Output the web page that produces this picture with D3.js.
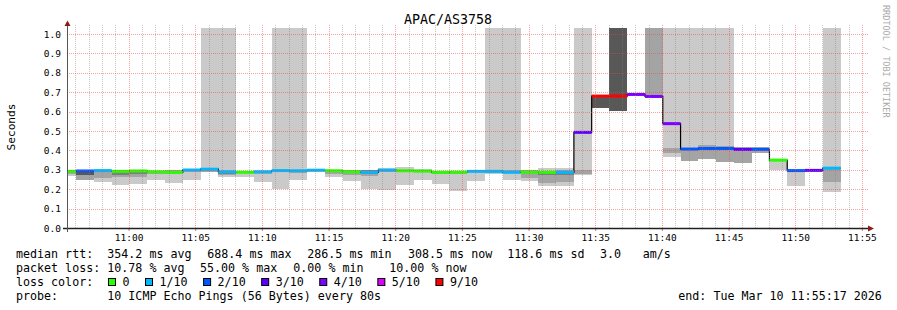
<!DOCTYPE html>
<html>
<head>
<meta charset="utf-8">
<title>APAC/AS3758</title>
<script src="https://cdn.jsdelivr.net/npm/d3@7/dist/d3.min.js"></script>
<style>
  body { margin: 0; background: #fff; }
  svg { display: block; font-family: "DejaVu Sans Mono", monospace; }
  .axis text { font-family: "DejaVu Sans Mono", monospace; font-size: 9.5px; fill: #000; }
  .legend text { font-size: 11.66px; fill: #000; white-space: pre; }
  .smoke rect { shape-rendering: crispEdges; }
</style>
</head>
<body>
<svg width="897" height="310"></svg>
<script>
// ---- data ----
var title = "APAC/AS3758";
var yTitle = "Seconds";
var watermark = "RRDTOOL / TOBI OETIKER";
var timeStart = "10:55:23", timeEnd = "11:55:23";
var firstBin = "10:54:44", stepSec = 80;
var INF = Infinity;

// median rtt per 80s bin (seconds)
var median = [
  0.292, 0.294, 0.296, 0.292, 0.294, 0.290, 0.287, 0.299, 0.303, 0.290,
  0.287, 0.290, 0.296, 0.295, 0.298, 0.295, 0.290, 0.287, 0.298, 0.295,
  0.293, 0.287, 0.288, 0.292, 0.292, 0.287, 0.288, 0.2865, 0.287, 0.493,
  0.680, 0.680, 0.6884, 0.678, 0.538, 0.407, 0.410, 0.410, 0.405, 0.405,
  0.350, 0.296, 0.297, 0.3085
];
// lost pings (of 10) per bin
var loss = [
  0, 2, 1, 0, 0, 0, 0, 1, 1, 1,
  0, 1, 1, 1, 1, 0, 0, 1, 1, 0,
  0, 0, 0, 1, 1, 1, 0, 0, 1, 3,
  9, 9, 4, 4, 4, 2, 2, 2, 3, 2,
  0, 2, 3, 1
];
// smoke bands [low, high] per bin, outermost to innermost
var smokeLight = [
  [0.270, 0.292], [0.247, 0.294], [0.239, 0.296], [0.222, 0.290], [0.226, 0.292],
  [0.247, 0.290], [0.230, 0.295], [0.247, 0.300], [0.288, INF],   [0.265, INF],
  [0.265, 0.290], [0.239, 0.290], [0.201, INF],   [0.247, INF],   [0.288, 0.300],
  [0.265, 0.295], [0.244, 0.300], [0.200, 0.300], [0.196, 0.310], [0.222, 0.315],
  [0.247, 0.305], [0.227, 0.295], [0.192, 0.295], [0.244, 0.297], [0.280, INF],
  [0.247, INF],   [0.242, 0.300], [0.216, 0.308], [0.216, 0.310], [0.273, INF],
  null, null, null, null, [0.368, INF],
  [0.347, INF],   [0.357, INF],   [0.342, INF],   null, null,
  [0.299, 0.350], [0.216, 0.296], null, [0.187, INF]
];
var smokeMid = [
  [0.278, 0.290], [0.247, 0.293], [0.256, 0.293], [0.265, 0.290], [0.265, 0.290],
  [0.280, 0.290], [0.280, 0.297], [0.290, 0.300], [0.288, 0.300], [0.275, 0.292],
  null,           [0.280, 0.292], [0.288, 0.300], [0.285, 0.300], null,
  [0.280, 0.292], [0.275, 0.300], [0.270, 0.300], [0.290, 0.305], null,
  null,           [0.280, 0.295], [0.280, 0.295], null,           [0.285, 0.297],
  [0.287, 0.300], [0.260, 0.300], [0.230, 0.290], [0.239, 0.300], [0.278, 0.300],
  null, null, [0.684, 0.692], [0.680, INF], [0.388, 0.410],
  [0.347, 0.402], [0.357, 0.430], [0.342, 0.424], [0.337, 0.420], [0.388, 0.418],
  null, null, null, [0.239, 0.305]
];
var smokeDeep = [
  null, null, null, [0.275, 0.290], [0.280, 0.290], null, null, null, null, [0.278, 0.290],
  null, null, null, null, null, null, null, [0.280, 0.298], null, null,
  null, null, null, null, null, null, null, [0.273, 0.285], [0.275, 0.290], null,
  null, null, null, null, null, null, null, null, null, null,
  null, null, null, null
];
var smokeDark = [
  null, [0.275, 0.293], null, null, null, null, null, null, null, null,
  null, null, null, null, null, null, null, null, null, null,
  null, null, null, null, null, null, null, null, null, null,
  [0.617, 0.680], [0.605, INF], null, null, null, null, null, null, null, null,
  null, null, null, null
];

var lossKeys = [0, 1, 2, 3, 4, 5, 9];
var lossLabels = ["0", "1/10", "2/10", "3/10", "4/10", "5/10", "9/10"];
var lossColors = ["#26ff00", "#00b8ff", "#0059ff", "#5e00ff", "#7e00ff", "#dd00ff", "#ff0000"];

var rttStats = ["354.2 ms avg", "688.4 ms max", "286.5 ms min", "308.5 ms now", "118.6 ms sd"];
var amStat = ["3.0", "am/s"];
var lossStats = ["10.78 % avg", "55.00 % max", " 0.00 % min", "10.00 % now"];
var probeText = "10 ICMP Echo Pings (56 Bytes) every 80s";
var endText = "end: Tue Mar 10 11:55:17 2026";

// ---- layout ----
var svg = d3.select("svg");
var plotL = 67, plotR = 867, plotT = 28, plotB = 228;
var parse = d3.timeParse("%H:%M:%S");

var x = d3.scaleTime()
  .domain([parse(timeStart), parse(timeEnd)])
  .range([plotL, plotR])
  .clamp(true);
var y = d3.scaleLinear()
  .domain([0, (plotB - plotT) / 194])
  .range([plotB, plotT])
  .clamp(true);

var t0 = parse(firstBin);
var bins = median.map(function(m, i) {
  return {
    i: i,
    start: d3.timeSecond.offset(t0, i * stepSec),
    end: d3.timeSecond.offset(t0, (i + 1) * stepSec),
    median: m,
    loss: loss[i]
  };
});

function lossColor(l) {
  var c = lossColors[0];
  lossKeys.forEach(function(k, i) { if (l >= k) c = lossColors[i]; });
  return c;
}

// smoke
var shades = [
  { data: smokeLight, color: "#cacaca" },
  { data: smokeMid, color: "#a4a4a4" },
  { data: smokeDeep, color: "#7e7e7e" },
  { data: smokeDark, color: "#585858" }
];
var smokeG = svg.append("g").attr("class", "smoke");
shades.forEach(function(s) {
  smokeG.append("g").selectAll("rect")
    .data(bins.filter(function(b) { return s.data[b.i]; }))
    .enter().append("rect")
    .attr("x", function(b) { return x(b.start); })
    .attr("width", function(b) { return x(b.end) - x(b.start); })
    .attr("y", function(b) { return y(s.data[b.i][1]); })
    .attr("height", function(b) { return Math.max(1, y(s.data[b.i][0]) - y(s.data[b.i][1])); })
    .attr("fill", s.color);
});

// median: black step line, then thick loss-coloured segments
var stepPts = bins.map(function(b) { return [b.start, b.median]; });
stepPts.push([bins[bins.length - 1].end, bins[bins.length - 1].median]);
svg.append("path")
  .datum(stepPts)
  .attr("fill", "none")
  .attr("stroke", "#000")
  .attr("stroke-width", 1.2)
  .attr("d", d3.line().curve(d3.curveStepAfter)
    .x(function(d) { return x(d[0]); })
    .y(function(d) { return y(d[1]); }));

svg.append("g").selectAll("line")
  .data(bins)
  .enter().append("line")
  .attr("x1", function(d) { return x(d.start); })
  .attr("x2", function(d) { return x(d.end); })
  .attr("y1", function(d) { return y(d.median); })
  .attr("y2", function(d) { return y(d.median); })
  .attr("stroke", function(d) { return lossColor(d.loss); })
  .attr("stroke-width", 3);

// grid (drawn on top, like rrdtool)
var grid = svg.append("g").attr("class", "grid");
var majors = x.ticks(d3.timeMinute.every(5));
var minors = x.ticks(d3.timeMinute.every(1)).filter(function(t) { return t.getMinutes() % 5 !== 0; });
grid.selectAll(".minor").data(minors).enter().append("line")
  .attr("x1", function(d) { return Math.round(x(d)) + 0.5; })
  .attr("x2", function(d) { return Math.round(x(d)) + 0.5; })
  .attr("y1", plotB).attr("y2", 25)
  .attr("stroke", "rgba(128,128,128,0.45)")
  .attr("stroke-dasharray", "1,1");
grid.selectAll(".hmajor").data(y.ticks(10).filter(function(v) { return v > 0; })).enter().append("line")
  .attr("x1", plotL).attr("x2", 868)
  .attr("y1", function(d) { return Math.round(y(d)) + 0.5; })
  .attr("y2", function(d) { return Math.round(y(d)) + 0.5; })
  .attr("stroke", "rgba(240,70,70,0.5)")
  .attr("stroke-dasharray", "1,1");
grid.selectAll(".vmajor").data(majors).enter().append("line")
  .attr("x1", function(d) { return Math.round(x(d)) + 0.5; })
  .attr("x2", function(d) { return Math.round(x(d)) + 0.5; })
  .attr("y1", plotB).attr("y2", 25)
  .attr("stroke", "rgba(240,70,70,0.5)")
  .attr("stroke-dasharray", "1,1");

// axes
var xAxis = svg.append("g")
  .attr("class", "axis")
  .attr("transform", "translate(0," + plotB + ")")
  .call(d3.axisBottom(x).tickValues(majors).tickFormat(d3.timeFormat("%H:%M"))
    .tickSize(3).tickPadding(3).tickSizeOuter(0));
xAxis.select(".domain").remove();
xAxis.selectAll(".tick line").attr("stroke", "#e07070");

var yAxis = svg.append("g")
  .attr("class", "axis")
  .attr("transform", "translate(" + plotL + ",0)")
  .call(d3.axisLeft(y).tickValues(y.ticks(10)).tickFormat(d3.format(".1f"))
    .tickSize(0).tickPadding(6));
yAxis.select(".domain").remove();

svg.append("line").attr("x1", 63).attr("x2", 868).attr("y1", plotB + 0.5).attr("y2", plotB + 0.5)
  .attr("stroke", "#222").attr("stroke-width", 1.3);
svg.append("line").attr("x1", plotL + 0.5).attr("x2", plotL + 0.5).attr("y1", plotB + 4).attr("y2", 26)
  .attr("stroke", "#555").attr("stroke-width", 1);
svg.append("path").attr("d", "M67.5,20.5L64.5,26L70.5,26Z").attr("fill", "#8c1c1c");
svg.append("path").attr("d", "M874,228.5L868,225.5L868,231.5Z").attr("fill", "#8c1c1c");

// titles
svg.append("text").attr("x", 448).attr("y", 24).attr("text-anchor", "middle")
  .style("font-size", "13.3px").text(title);
svg.append("text").attr("transform", "translate(15,127) rotate(-90)").attr("text-anchor", "middle")
  .style("font-size", "11.2px").text(yTitle);
svg.append("text").attr("transform", "translate(883,5) rotate(90)")
  .style("font-size", "8.5px").attr("fill", "#aaaaaa").text(watermark);

// legend
var lg = svg.append("g").attr("class", "legend");
function put(xp, yp, s) { lg.append("text").attr("x", xp).attr("y", yp).text(s); }
put(16, 258, "median rtt:");
[107.3, 207.3, 307.3, 408, 507.3].forEach(function(xp, i) { put(xp, 258, rttStats[i]); });
put(600, 258, amStat[0]);
put(642.7, 258, amStat[1]);

put(16, 272, "packet loss:");
[107.3, 200, 286.3, 389.3].forEach(function(xp, i) { put(xp, 272, lossStats[i]); });

put(16, 286, "loss color:");
var kx = 108.5;
lossLabels.forEach(function(lbl, i) {
  lg.append("rect").attr("x", kx).attr("y", 278.5).attr("width", 7).attr("height", 7)
    .attr("fill", lossColors[i]).attr("stroke", "#000").attr("stroke-width", 1);
  put(kx + 14, 286, lbl);
  kx += 14 + lbl.length * 7.02 + 16;
});

put(16, 300, "probe:");
put(107.3, 300, probeText);
put(678.3, 300, endText);
</script>
</body>
</html>
